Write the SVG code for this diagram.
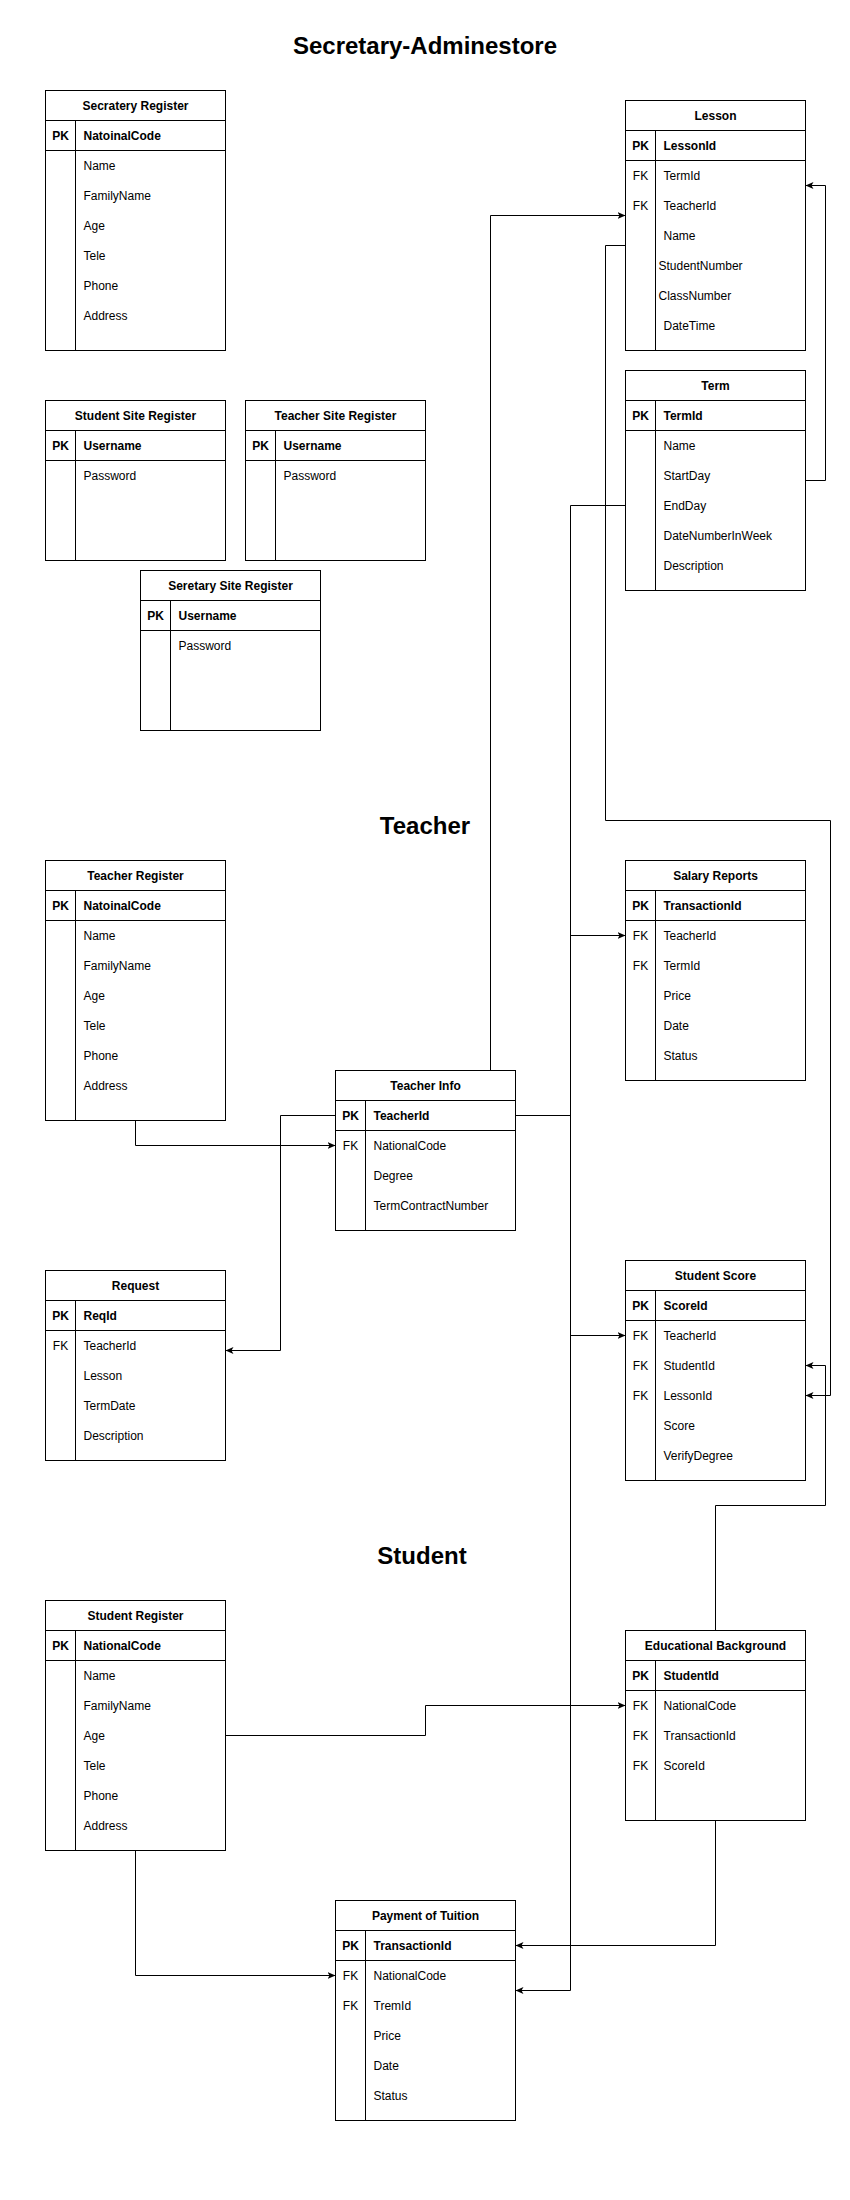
<svg xmlns="http://www.w3.org/2000/svg" width="850" height="2200" viewBox="0 0 850 2200">
<style>
.bg{fill:#fff}
.box{fill:#fff;stroke:#000;stroke-width:1}
.ln{stroke:#000;stroke-width:1;fill:none}
.cn{stroke:#000;stroke-width:1;fill:none;marker-end:url(#arr)}
text{font-family:"Liberation Sans",Arial,sans-serif;font-size:12px;fill:#000}
.h{font-weight:bold;text-anchor:middle}
.pk{font-weight:bold;text-anchor:middle}
.fk{text-anchor:middle}
.b{font-weight:bold}
.title{font-weight:bold;font-size:24px;text-anchor:middle}
</style>
<defs>
<marker id="arr" markerWidth="10" markerHeight="10" refX="8" refY="4" orient="auto" markerUnits="userSpaceOnUse">
<path d="M0,0.5 L8,4 L0,7.5 L2,4 z" fill="#000"/>
</marker>
</defs>
<rect class="bg" x="0" y="0" width="850" height="2200"/>

<text class="title" x="425" y="54">Secretary-Adminestore</text>
<text class="title" x="425" y="834">Teacher</text>
<text class="title" x="422" y="1564">Student</text>

<g id="connectors">
<path class="cn" d="M490.5,1070.5 V215.5 H625.5"/>
<path class="cn" d="M805.5,480.5 H825.5 V185.5 H805.5"/>
<path class="cn" d="M625.5,245.5 H605.5 V820.5 H830.5 V1395.5 H805.5"/>
<path class="cn" d="M625.5,505.5 H570.5 V1990.5 H515.5"/>
<path class="cn" d="M515.5,1115.5 H570.5 V935.5 H625.5"/>
<path class="cn" d="M515.5,1115.5 H570.5 V1335.5 H625.5"/>
<path class="cn" d="M335.5,1115.5 H280.5 V1350.5 H225.5"/>
<path class="cn" d="M135.5,1120.5 V1145.5 H335.5"/>
<path class="cn" d="M715.5,1630.5 V1505.5 H825.5 V1365.5 H805.5"/>
<path class="cn" d="M225.5,1735.5 H425.5 V1705.5 H625.5"/>
<path class="cn" d="M135.5,1850.5 V1975.5 H335.5"/>
<path class="cn" d="M715.5,1820.5 V1945.5 H515.5"/>
</g>

<g id="secratery-register">
<rect class="box" x="45.5" y="90.5" width="180" height="260"/>
<path class="ln" d="M45.5,120.5 H225.5 M45.5,150.5 H225.5 M75.5,120.5 V350.5"/>
<text class="h" x="135.5" y="109.5">Secratery Register</text>
<text class="pk" x="60.5" y="139.5">PK</text>
<text class="b" x="83.5" y="139.5">NatoinalCode</text>
<text x="83.5" y="169.5">Name</text>
<text x="83.5" y="199.5">FamilyName</text>
<text x="83.5" y="229.5">Age</text>
<text x="83.5" y="259.5">Tele</text>
<text x="83.5" y="289.5">Phone</text>
<text x="83.5" y="319.5">Address</text>
</g>

<g id="lesson">
<rect class="box" x="625.5" y="100.5" width="180" height="250"/>
<path class="ln" d="M625.5,130.5 H805.5 M625.5,160.5 H805.5 M655.5,130.5 V350.5"/>
<text class="h" x="715.5" y="119.5">Lesson</text>
<text class="pk" x="640.5" y="149.5">PK</text>
<text class="b" x="663.5" y="149.5">LessonId</text>
<text class="fk" x="640.5" y="179.5">FK</text>
<text x="663.5" y="179.5">TermId</text>
<text class="fk" x="640.5" y="209.5">FK</text>
<text x="663.5" y="209.5">TeacherId</text>
<text x="663.5" y="239.5">Name</text>
<text x="658.5" y="269.5">StudentNumber</text>
<text x="658.5" y="299.5">ClassNumber</text>
<text x="663.5" y="329.5">DateTime</text>
</g>

<g id="term">
<rect class="box" x="625.5" y="370.5" width="180" height="220"/>
<path class="ln" d="M625.5,400.5 H805.5 M625.5,430.5 H805.5 M655.5,400.5 V590.5"/>
<text class="h" x="715.5" y="389.5">Term</text>
<text class="pk" x="640.5" y="419.5">PK</text>
<text class="b" x="663.5" y="419.5">TermId</text>
<text x="663.5" y="449.5">Name</text>
<text x="663.5" y="479.5">StartDay</text>
<text x="663.5" y="509.5">EndDay</text>
<text x="663.5" y="539.5">DateNumberInWeek</text>
<text x="663.5" y="569.5">Description</text>
</g>

<g id="student-site-register">
<rect class="box" x="45.5" y="400.5" width="180" height="160"/>
<path class="ln" d="M45.5,430.5 H225.5 M45.5,460.5 H225.5 M75.5,430.5 V560.5"/>
<text class="h" x="135.5" y="419.5">Student Site Register</text>
<text class="pk" x="60.5" y="449.5">PK</text>
<text class="b" x="83.5" y="449.5">Username</text>
<text x="83.5" y="479.5">Password</text>
</g>

<g id="teacher-site-register">
<rect class="box" x="245.5" y="400.5" width="180" height="160"/>
<path class="ln" d="M245.5,430.5 H425.5 M245.5,460.5 H425.5 M275.5,430.5 V560.5"/>
<text class="h" x="335.5" y="419.5">Teacher Site Register</text>
<text class="pk" x="260.5" y="449.5">PK</text>
<text class="b" x="283.5" y="449.5">Username</text>
<text x="283.5" y="479.5">Password</text>
</g>

<g id="seretary-site-register">
<rect class="box" x="140.5" y="570.5" width="180" height="160"/>
<path class="ln" d="M140.5,600.5 H320.5 M140.5,630.5 H320.5 M170.5,600.5 V730.5"/>
<text class="h" x="230.5" y="589.5">Seretary Site Register</text>
<text class="pk" x="155.5" y="619.5">PK</text>
<text class="b" x="178.5" y="619.5">Username</text>
<text x="178.5" y="649.5">Password</text>
</g>

<g id="teacher-register">
<rect class="box" x="45.5" y="860.5" width="180" height="260"/>
<path class="ln" d="M45.5,890.5 H225.5 M45.5,920.5 H225.5 M75.5,890.5 V1120.5"/>
<text class="h" x="135.5" y="879.5">Teacher Register</text>
<text class="pk" x="60.5" y="909.5">PK</text>
<text class="b" x="83.5" y="909.5">NatoinalCode</text>
<text x="83.5" y="939.5">Name</text>
<text x="83.5" y="969.5">FamilyName</text>
<text x="83.5" y="999.5">Age</text>
<text x="83.5" y="1029.5">Tele</text>
<text x="83.5" y="1059.5">Phone</text>
<text x="83.5" y="1089.5">Address</text>
</g>

<g id="salary-reports">
<rect class="box" x="625.5" y="860.5" width="180" height="220"/>
<path class="ln" d="M625.5,890.5 H805.5 M625.5,920.5 H805.5 M655.5,890.5 V1080.5"/>
<text class="h" x="715.5" y="879.5">Salary Reports</text>
<text class="pk" x="640.5" y="909.5">PK</text>
<text class="b" x="663.5" y="909.5">TransactionId</text>
<text class="fk" x="640.5" y="939.5">FK</text>
<text x="663.5" y="939.5">TeacherId</text>
<text class="fk" x="640.5" y="969.5">FK</text>
<text x="663.5" y="969.5">TermId</text>
<text x="663.5" y="999.5">Price</text>
<text x="663.5" y="1029.5">Date</text>
<text x="663.5" y="1059.5">Status</text>
</g>

<g id="teacher-info">
<rect class="box" x="335.5" y="1070.5" width="180" height="160"/>
<path class="ln" d="M335.5,1100.5 H515.5 M335.5,1130.5 H515.5 M365.5,1100.5 V1230.5"/>
<text class="h" x="425.5" y="1089.5">Teacher Info</text>
<text class="pk" x="350.5" y="1119.5">PK</text>
<text class="b" x="373.5" y="1119.5">TeacherId</text>
<text class="fk" x="350.5" y="1149.5">FK</text>
<text x="373.5" y="1149.5">NationalCode</text>
<text x="373.5" y="1179.5">Degree</text>
<text x="373.5" y="1209.5">TermContractNumber</text>
</g>

<g id="request">
<rect class="box" x="45.5" y="1270.5" width="180" height="190"/>
<path class="ln" d="M45.5,1300.5 H225.5 M45.5,1330.5 H225.5 M75.5,1300.5 V1460.5"/>
<text class="h" x="135.5" y="1289.5">Request</text>
<text class="pk" x="60.5" y="1319.5">PK</text>
<text class="b" x="83.5" y="1319.5">ReqId</text>
<text class="fk" x="60.5" y="1349.5">FK</text>
<text x="83.5" y="1349.5">TeacherId</text>
<text x="83.5" y="1379.5">Lesson</text>
<text x="83.5" y="1409.5">TermDate</text>
<text x="83.5" y="1439.5">Description</text>
</g>

<g id="student-score">
<rect class="box" x="625.5" y="1260.5" width="180" height="220"/>
<path class="ln" d="M625.5,1290.5 H805.5 M625.5,1320.5 H805.5 M655.5,1290.5 V1480.5"/>
<text class="h" x="715.5" y="1279.5">Student Score</text>
<text class="pk" x="640.5" y="1309.5">PK</text>
<text class="b" x="663.5" y="1309.5">ScoreId</text>
<text class="fk" x="640.5" y="1339.5">FK</text>
<text x="663.5" y="1339.5">TeacherId</text>
<text class="fk" x="640.5" y="1369.5">FK</text>
<text x="663.5" y="1369.5">StudentId</text>
<text class="fk" x="640.5" y="1399.5">FK</text>
<text x="663.5" y="1399.5">LessonId</text>
<text x="663.5" y="1429.5">Score</text>
<text x="663.5" y="1459.5">VerifyDegree</text>
</g>

<g id="student-register">
<rect class="box" x="45.5" y="1600.5" width="180" height="250"/>
<path class="ln" d="M45.5,1630.5 H225.5 M45.5,1660.5 H225.5 M75.5,1630.5 V1850.5"/>
<text class="h" x="135.5" y="1619.5">Student Register</text>
<text class="pk" x="60.5" y="1649.5">PK</text>
<text class="b" x="83.5" y="1649.5">NationalCode</text>
<text x="83.5" y="1679.5">Name</text>
<text x="83.5" y="1709.5">FamilyName</text>
<text x="83.5" y="1739.5">Age</text>
<text x="83.5" y="1769.5">Tele</text>
<text x="83.5" y="1799.5">Phone</text>
<text x="83.5" y="1829.5">Address</text>
</g>

<g id="educational-background">
<rect class="box" x="625.5" y="1630.5" width="180" height="190"/>
<path class="ln" d="M625.5,1660.5 H805.5 M625.5,1690.5 H805.5 M655.5,1660.5 V1820.5"/>
<text class="h" x="715.5" y="1649.5">Educational Background</text>
<text class="pk" x="640.5" y="1679.5">PK</text>
<text class="b" x="663.5" y="1679.5">StudentId</text>
<text class="fk" x="640.5" y="1709.5">FK</text>
<text x="663.5" y="1709.5">NationalCode</text>
<text class="fk" x="640.5" y="1739.5">FK</text>
<text x="663.5" y="1739.5">TransactionId</text>
<text class="fk" x="640.5" y="1769.5">FK</text>
<text x="663.5" y="1769.5">ScoreId</text>
</g>

<g id="payment-of-tuition">
<rect class="box" x="335.5" y="1900.5" width="180" height="220"/>
<path class="ln" d="M335.5,1930.5 H515.5 M335.5,1960.5 H515.5 M365.5,1930.5 V2120.5"/>
<text class="h" x="425.5" y="1919.5">Payment of Tuition</text>
<text class="pk" x="350.5" y="1949.5">PK</text>
<text class="b" x="373.5" y="1949.5">TransactionId</text>
<text class="fk" x="350.5" y="1979.5">FK</text>
<text x="373.5" y="1979.5">NationalCode</text>
<text class="fk" x="350.5" y="2009.5">FK</text>
<text x="373.5" y="2009.5">TremId</text>
<text x="373.5" y="2039.5">Price</text>
<text x="373.5" y="2069.5">Date</text>
<text x="373.5" y="2099.5">Status</text>
</g>
</svg>
